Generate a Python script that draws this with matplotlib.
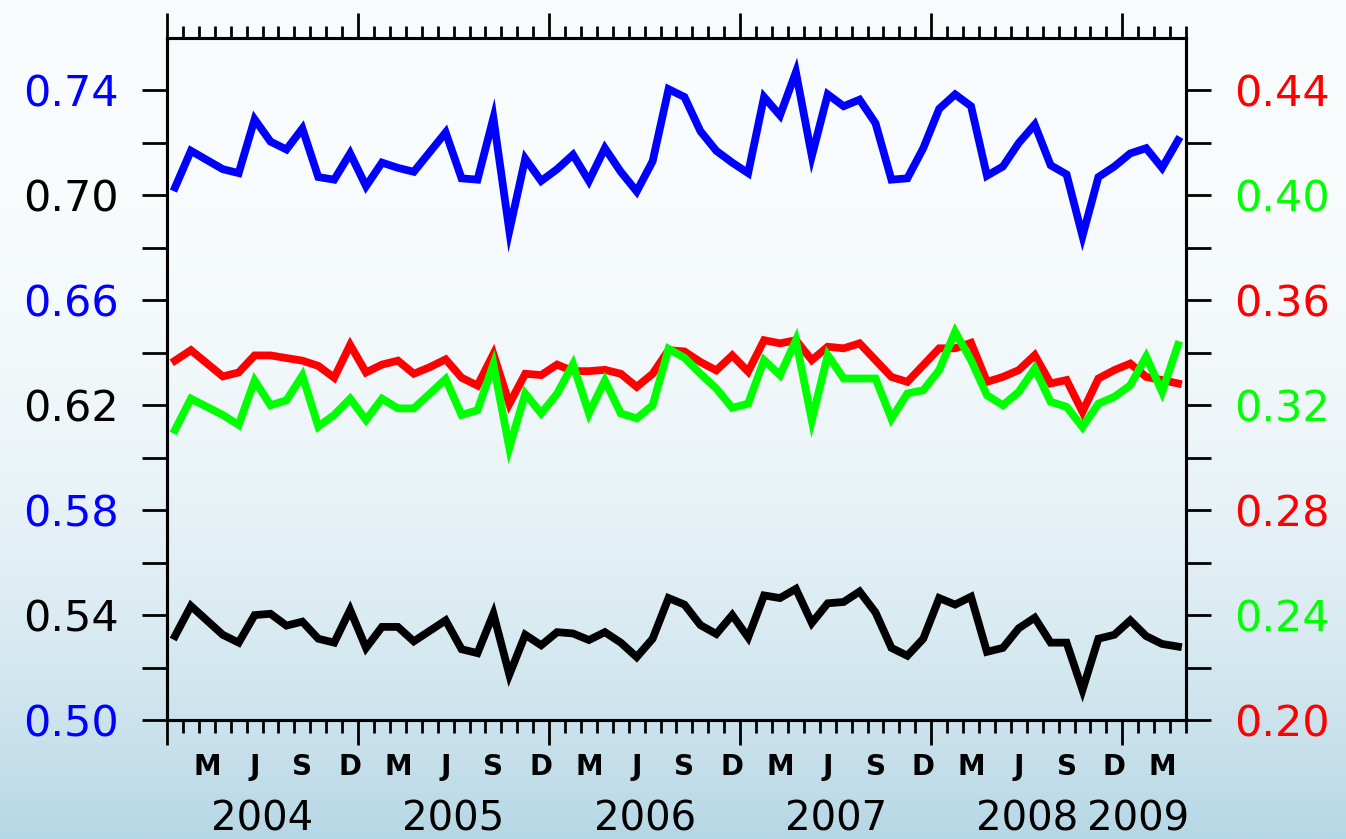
import numpy as np
import matplotlib
matplotlib.use("Agg")
import matplotlib.pyplot as plt
import matplotlib.transforms as mtransforms

# Serie mensal jan/2004 - abr/2009 (64 meses)
azul = [0.703, 0.717, 0.7135, 0.710, 0.7085, 0.729, 0.7205, 0.7175, 0.7255, 0.707,
        0.706, 0.716, 0.7035, 0.7125, 0.7105, 0.709, 0.7165, 0.724, 0.7065, 0.706,
        0.7295, 0.6865, 0.714, 0.7055, 0.710, 0.7155, 0.7055, 0.718, 0.709, 0.7015,
        0.713, 0.7405, 0.7375, 0.7245, 0.717, 0.7125, 0.7085, 0.7375, 0.7305, 0.747,
        0.715, 0.7385, 0.734, 0.7365, 0.7275, 0.706, 0.7065, 0.718, 0.733, 0.7385,
        0.734, 0.7075, 0.711, 0.720, 0.727, 0.7115, 0.708, 0.6845, 0.707, 0.711,
        0.716, 0.718, 0.7105, 0.721]

preto = [0.532, 0.5435, 0.538, 0.5325, 0.5295, 0.540, 0.5405, 0.536, 0.5375, 0.531,
         0.5295, 0.542, 0.5275, 0.5355, 0.5355, 0.530, 0.534, 0.538, 0.527, 0.5255,
         0.5405, 0.5173, 0.5325, 0.5285, 0.5335, 0.533, 0.5305, 0.5335, 0.5295, 0.524,
         0.531, 0.5465, 0.544, 0.5362, 0.5328, 0.540, 0.5315, 0.5475, 0.5465, 0.550,
         0.537, 0.5445, 0.545, 0.549, 0.541, 0.5275, 0.5245, 0.531, 0.5465, 0.544,
         0.547, 0.526, 0.5275, 0.535, 0.539, 0.5295, 0.5295, 0.5115, 0.531, 0.5325,
         0.538, 0.532, 0.529, 0.528]

# eixo da direita
vermelho = [0.337, 0.341, 0.336, 0.331, 0.3325, 0.339, 0.339, 0.338, 0.337, 0.335,
            0.3305, 0.343, 0.3325, 0.3355, 0.337, 0.332, 0.3345, 0.3375, 0.3305, 0.3275,
            0.3395, 0.3205, 0.332, 0.3315, 0.3355, 0.333, 0.333, 0.3335, 0.332, 0.327,
            0.332, 0.341, 0.3405, 0.3365, 0.3333, 0.339, 0.3328, 0.3448, 0.3436, 0.3448,
            0.3372, 0.3423, 0.3417, 0.3436, 0.3372, 0.3308, 0.3289, 0.3353, 0.3417, 0.3417,
            0.3438, 0.3289, 0.3308, 0.3334, 0.3391, 0.3283, 0.3296, 0.3175, 0.3302, 0.3334,
            0.3359, 0.3308, 0.3296, 0.3283]

verde = [0.3106, 0.3225, 0.3194, 0.3163, 0.3125, 0.3294, 0.320, 0.3219, 0.3313, 0.3119,
         0.3163, 0.3225, 0.3144, 0.3225, 0.3188, 0.3188, 0.3244, 0.330, 0.3163, 0.3181,
         0.3356, 0.3038, 0.3244, 0.3169, 0.3244, 0.3356, 0.3169, 0.3294, 0.3169, 0.315,
         0.320, 0.3415, 0.3381, 0.332, 0.3264, 0.319, 0.3206, 0.3372, 0.3315, 0.3448,
         0.3143, 0.3391, 0.3302, 0.3302, 0.3302, 0.3149, 0.3245, 0.3257, 0.3334, 0.348,
         0.3372, 0.3238, 0.320, 0.3251, 0.334, 0.3213, 0.3194, 0.3117, 0.3206, 0.3232,
         0.3276, 0.3385, 0.3251, 0.343]

anos = ["2004", "2005", "2006", "2007", "2008", "2009"]
meses = ["M", "J", "S", "D"]

ticks_esq = [0.50, 0.54, 0.58, 0.62, 0.66, 0.70, 0.74]
ticks_dir = [0.20, 0.24, 0.28, 0.32, 0.36, 0.40, 0.44]
cores_esq = ["blue", "black"]
cores_dir = ["red", "#00ff00"]


def main():
    n_meses = len(azul)
    x = np.arange(n_meses) + 0.5  # ponto no meio de cada mes

    fig = plt.figure(figsize=(13.46, 8.39), dpi=100)

    # fundo em degrade (branco -> azul claro)
    fundo = fig.add_axes([0, 0, 1, 1], zorder=-10)
    t = np.linspace(0, 1, 400)[:, None] ** 2.6
    topo = np.array([249, 252, 253]) / 255
    base = np.array([182, 215, 229]) / 255
    grad = topo[None, None, :] + (base - topo)[None, None, :] * t[:, :, None]
    grad = np.repeat(grad, 2, axis=1)
    fundo.imshow(grad, aspect="auto", extent=[0, 1, 0, 1])
    fundo.axis("off")

    ax = fig.add_axes([0.1241, 0.1418, 0.7570, 0.8129])
    ax.patch.set_alpha(0)
    ax2 = ax.twinx()

    lw = 5.6
    ax.plot(x, preto, color="black", lw=lw, solid_joinstyle="miter")
    ax.plot(x, azul, color="blue", lw=lw, solid_joinstyle="miter")
    ax2.plot(x, vermelho, color="red", lw=lw, solid_joinstyle="miter")
    ax2.plot(x, verde, color="#00ff00", lw=lw, solid_joinstyle="miter")

    ax.set_xlim(0, n_meses)
    ax.set_ylim(0.50, 0.76)
    ax2.set_ylim(0.20, 0.46)

    # eixos y: ticks a cada 0.02, rotulos a cada 0.04 com cores alternadas
    ax.set_yticks(ticks_esq, [f"{v:.2f}" for v in ticks_esq])
    ax.set_yticks(np.arange(0.52, 0.76, 0.04), minor=True)
    ax2.set_yticks(ticks_dir, [f"{v:.2f}" for v in ticks_dir])
    ax2.set_yticks(np.arange(0.22, 0.46, 0.04), minor=True)
    for i, lab in enumerate(ax.get_yticklabels()):
        lab.set_color(cores_esq[i % 2])
    for i, lab in enumerate(ax2.get_yticklabels()):
        lab.set_color(cores_dir[i % 2])

    for a in (ax, ax2):
        a.tick_params(axis="y", which="both", direction="out", length=18, width=2,
                      labelsize=31, pad=17)
        for s in a.spines.values():
            s.set_linewidth(2.2)

    # eixo x: ticks mensais, ticks longos na virada do ano
    ax.set_xticks(np.arange(0, n_meses + 1, 12))
    ax.set_xticks(np.arange(0, n_meses + 1, 1), minor=True)
    ax.tick_params(axis="x", which="major", direction="out", length=18, width=2,
                   top=True, bottom=True, labelbottom=False)
    ax.tick_params(axis="x", which="minor", direction="out", length=9, width=2,
                   top=True, bottom=True)

    trans = mtransforms.blended_transform_factory(ax.transData, ax.transAxes)
    for k in range(n_meses):
        if k % 3 == 2:
            ax.text(k + 0.5, -0.069, meses[(k // 3) % 4], transform=trans,
                    ha="center", va="center", fontsize=20, fontweight="bold")
    for j, ano in enumerate(anos):
        pos = 12 * j + 6 if j < 5 else 61.0
        ax.text(pos, -0.146, ano, transform=trans, ha="center", va="center",
                fontsize=29)

    fig.savefig("out.png", dpi=100)


if __name__ == "__main__":
    main()
